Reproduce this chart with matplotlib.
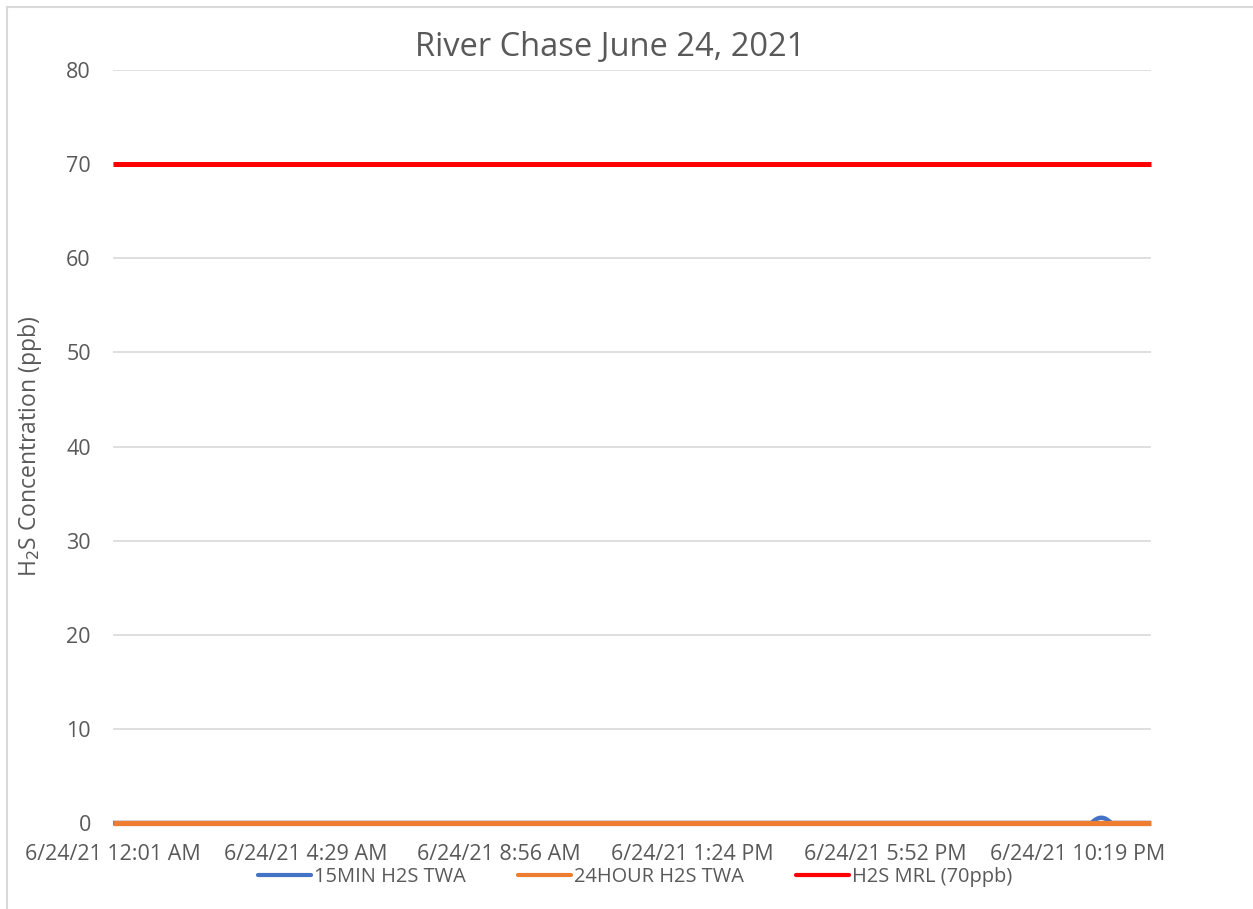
import numpy as np
import matplotlib
matplotlib.use("Agg")
import matplotlib.pyplot as plt
from matplotlib.lines import Line2D

# minutes since midnight, June 24 2021
tick_minutes = [1, 269, 536, 804, 1072, 1339]
tick_labels = ["6/24/21 12:01 AM", "6/24/21 4:29 AM", "6/24/21 8:56 AM",
               "6/24/21 1:24 PM", "6/24/21 5:52 PM", "6/24/21 10:19 PM"]

# 15 minute TWA: flat at zero, small blip late in the evening
twa15_min = [1, 1358, 1362, 1366, 1370, 1374, 1378, 1382, 1386, 1441]
twa15_val = [0, 0, 0.25, 0.45, 0.55, 0.55, 0.45, 0.25, 0, 0]

twa24_min = [1, 1441]
twa24_val = [0, 0]

mrl_min = [1, 1441]
mrl_val = [70, 70]

grey = "#595959"
plt.rcParams['font.family'] = ['Open Sans', 'DejaVu Sans']

fig = plt.figure(figsize=(12.53, 9.09), dpi=100)
ax = fig.add_axes([113/1253, 1 - 823/909, (1151-113)/1253, (823-70)/909])

ax.plot(twa15_min, twa15_val, color="#4472c4", lw=3.2, solid_capstyle="butt",
        solid_joinstyle="round", zorder=3, clip_on=False)
ax.plot(twa24_min, twa24_val, color="#ed7d31", lw=3.8, solid_capstyle="butt",
        zorder=4, clip_on=False)
ax.plot(mrl_min, mrl_val, color="#ff0000", lw=3.6, solid_capstyle="butt",
        zorder=5, clip_on=False)

ax.set_xlim(1, 1441)
ax.set_ylim(0, 80)
ax.set_yticks(range(0, 81, 10))
ax.set_xticks(tick_minutes)
ax.set_xticklabels(tick_labels)
ax.yaxis.grid(True, color="#d9d9d9", lw=1.2)
ax.set_axisbelow(True)
for s in ax.spines.values():
    s.set_visible(False)
ax.tick_params(axis="both", length=0, colors=grey, labelsize=15.5)
ax.tick_params(axis="y", pad=16)
ax.tick_params(axis="x", pad=15)

ax.set_ylabel("H$_2$S Concentration (ppb)", color=grey, fontsize=16.5, labelpad=16)
fig.text(610/1253, 1 - 48/909, "River Chase June 24, 2021", ha="center", va="center",
         color=grey, fontsize=23.5)

handles = [Line2D([], [], color="#4472c4", lw=3, solid_capstyle="round"),
           Line2D([], [], color="#ed7d31", lw=3, solid_capstyle="round"),
           Line2D([], [], color="#ff0000", lw=3, solid_capstyle="round")]
leg = fig.legend(handles, ["15MIN H2S TWA", "24HOUR H2S TWA", "H2S MRL (70ppb)"],
                 loc="center", bbox_to_anchor=(635/1253, 1 - 877/909), ncol=3,
                 frameon=False, fontsize=14.4, handlelength=2.65, handletextpad=0.15,
                 columnspacing=2.6)
for t in leg.get_texts():
    t.set_color(grey)

# chart border (top and left visible in the reference)
fig.add_artist(Line2D([7/1253, 7/1253], [0, 1 - 7/909], color="#d9d9d9", lw=1.5))
fig.add_artist(Line2D([7/1253, 1], [1 - 7/909, 1 - 7/909], color="#d9d9d9", lw=1.5))

fig.savefig("out.png", dpi=100)
